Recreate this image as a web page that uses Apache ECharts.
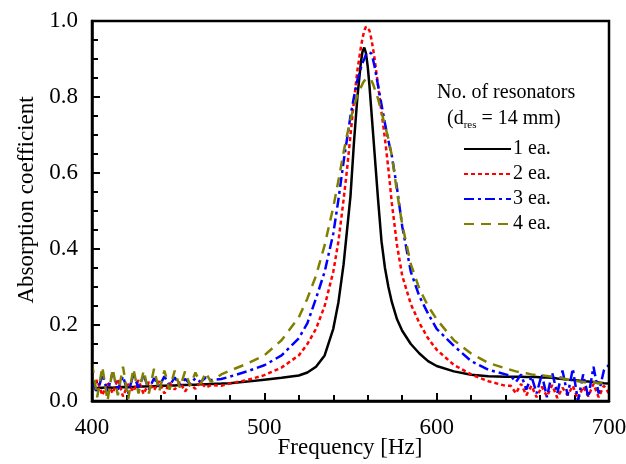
<!DOCTYPE html>
<html>
<head>
<meta charset="utf-8">
<script src="https://cdn.jsdelivr.net/npm/echarts@6/dist/echarts.min.js"></script>
<style>html,body{margin:0;padding:0;background:#fff;}#c{width:626px;height:464px;}</style>
</head>
<body>
<div id="c"></div>
<script>
var freq = [400,403,406,409,412,415,418,421,424,427,430,433,436,439,442,445,448,451,454,457,460,463,466,469,
  475,480,490,500,510,520,525,530,535,540,543,546,548,550,552,554,556,557,558,559,
  560,561,562,563,564,566,568,570,572,574,577,580,585,590,595,600,610,620,630,640,
  643,646,649,652,655,658,661,664,667,670,673,676,679,682,685,688,691,694,697,700];

var ea1 = [0.035,0.034,0.035,0.036,0.035,0.036,0.037,0.036,0.037,0.038,0.038,0.039,0.039,0.040,0.040,0.041,0.041,0.042,0.042,0.043,0.043,0.044,0.044,0.045,
  0.046,0.047,0.051,0.056,0.061,0.067,0.075,0.09,0.12,0.19,0.26,0.36,0.45,0.54,0.68,0.80,0.89,0.92,0.93,0.915,
  0.88,0.83,0.77,0.71,0.65,0.53,0.42,0.35,0.30,0.26,0.215,0.185,0.15,0.125,0.105,0.092,0.078,0.069,0.065,0.064,
  0.064,0.064,0.064,0.063,0.063,0.063,0.062,0.062,0.061,0.059,0.058,0.056,0.055,0.054,0.052,0.051,0.05,0.049,0.047,0.046];

var ea2 = [0.03,0.055,0.015,0.05,0.02,0.058,0.012,0.045,0.025,0.055,0.018,0.05,0.028,0.052,0.02,0.048,0.03,0.05,0.025,0.045,0.032,0.05,0.035,0.042,
  0.04,0.046,0.055,0.068,0.088,0.12,0.15,0.19,0.25,0.34,0.42,0.53,0.61,0.70,0.79,0.87,0.93,0.955,0.975,0.985,
  0.985,0.975,0.955,0.93,0.9,0.83,0.76,0.69,0.61,0.52,0.41,0.33,0.255,0.205,0.165,0.135,0.095,0.07,0.052,0.04,
  0.04,0.02,0.045,0.015,0.04,0.01,0.038,0.012,0.042,0.008,0.035,0.015,0.04,0.005,0.038,0.012,0.045,0.01,0.04,0.02];

var ea3 = [0.05,0.02,0.07,0.025,0.075,0.03,0.065,0.02,0.07,0.035,0.068,0.03,0.06,0.038,0.065,0.04,0.062,0.042,0.058,0.045,0.06,0.05,0.062,0.055,
  0.058,0.064,0.078,0.094,0.12,0.165,0.205,0.27,0.34,0.44,0.53,0.63,0.69,0.75,0.80,0.845,0.875,0.89,0.90,0.912,
  0.918,0.92,0.915,0.9,0.88,0.83,0.78,0.73,0.685,0.645,0.56,0.46,0.34,0.275,0.23,0.19,0.145,0.105,0.082,0.07,
  0.066,0.05,0.07,0.03,0.065,0.02,0.07,0.01,0.075,0.02,0.08,0.015,0.085,0.0,0.07,0.01,0.09,0.02,0.08,0.095];

var ea4 = [0.10,0.01,0.09,0.0,0.085,0.015,0.09,0.005,0.085,0.02,0.08,0.02,0.085,0.025,0.08,0.03,0.08,0.035,0.078,0.04,0.075,0.045,0.075,0.05,
  0.07,0.08,0.098,0.12,0.16,0.22,0.27,0.33,0.41,0.51,0.58,0.655,0.70,0.74,0.775,0.805,0.825,0.835,0.843,0.848,
  0.85,0.85,0.845,0.835,0.822,0.795,0.76,0.725,0.69,0.645,0.55,0.465,0.36,0.295,0.25,0.215,0.16,0.125,0.1,0.086,
  0.082,0.078,0.075,0.073,0.07,0.068,0.067,0.066,0.064,0.062,0.06,0.056,0.055,0.052,0.05,0.048,0.05,0.046,0.048,0.045];

var seriesNames = ['1 ea.', '2 ea.', '3 ea.', '4 ea.'];
var legendTitle = 'No. of resonators';
var xTitle = 'Frequency [Hz]';
var yTitle = 'Absorption coefficient';

function pairs(v) { return freq.map(function (f, i) { return [f, v[i]]; }); }

var FONT = 'Liberation Serif';
var styles = [
  {color: '#000000', type: 'solid'},
  {color: '#ff0000', type: [4, 3]},
  {color: '#0000ff', type: [10, 4, 3, 4]},
  {color: '#808000', type: [10, 7]}
];
var vals = [ea1, ea2, ea3, ea4];

var chart = echarts.init(document.getElementById('c'), null, {renderer: 'canvas'});
chart.setOption({
  animation: false,
  backgroundColor: '#fff',
  grid: {left: 92, right: 17, top: 21, bottom: 63, show: true, borderColor: '#000', borderWidth: 2.5, z: 10,
    containLabel: false, outerBoundsMode: 'none'},
  xAxis: {
    type: 'value', min: 400, max: 700, interval: 100,
    axisLine: {show: true, lineStyle: {color: '#000', width: 2.5}},
    axisTick: {show: true, inside: true, length: 8, lineStyle: {color: '#000', width: 2}},
    minorTick: {show: true, splitNumber: 5, length: 6, lineStyle: {color: '#000', width: 2}},
    splitLine: {show: false},
    axisLabel: {fontFamily: FONT, fontSize: 23, color: '#000', margin: 15}
  },
  yAxis: {
    type: 'value', min: 0, max: 1, interval: 0.2,
    axisLine: {show: true, lineStyle: {color: '#000', width: 2.5}},
    axisTick: {show: true, inside: true, length: 8, lineStyle: {color: '#000', width: 2}},
    minorTick: {show: true, splitNumber: 4, length: 6, lineStyle: {color: '#000', width: 2}},
    splitLine: {show: false},
    axisLabel: {fontFamily: FONT, fontSize: 23, color: '#000', margin: 14,
      formatter: function (v) { return v.toFixed(1); }}
  },
  legend: {
    data: seriesNames, orient: 'vertical', left: 463, top: 139, padding: 0,
    itemWidth: 47, itemHeight: 12, itemGap: 5, selectedMode: false,
    itemStyle: {opacity: 0},
    textStyle: {fontFamily: FONT, fontSize: 20, color: '#000', padding: [0, 0, 0, -3]}
  },
  graphic: [
    {type: 'text', left: 437, top: 83, style: {text: legendTitle, font: '20px "Liberation Serif"', fill: '#000'}},
    {type: 'text', left: 447, top: 109, style: {
      text: '(d{s|res} = 14 mm)', font: '20px "Liberation Serif"', fill: '#000',
      rich: {s: {fontSize: 11, fontFamily: FONT, padding: [12, 0, 0, 0]}}
    }},
    {type: 'text', x: 27, y: 200, rotation: Math.PI / 2,
      style: {text: yTitle, font: '23px "Liberation Serif"', fill: '#000', align: 'center', verticalAlign: 'middle'}},
    {type: 'text', x: 350, y: 448,
      style: {text: xTitle, font: '23px "Liberation Serif"', fill: '#000', align: 'center', verticalAlign: 'middle'}}
  ],
  series: vals.map(function (v, i) {
    return {
      name: seriesNames[i], type: 'line', data: pairs(v), symbol: 'none', smooth: false,
      lineStyle: {color: styles[i].color, width: 2.5, type: styles[i].type},
      itemStyle: {color: styles[i].color}
    };
  })
});
</script>
</body>
</html>
